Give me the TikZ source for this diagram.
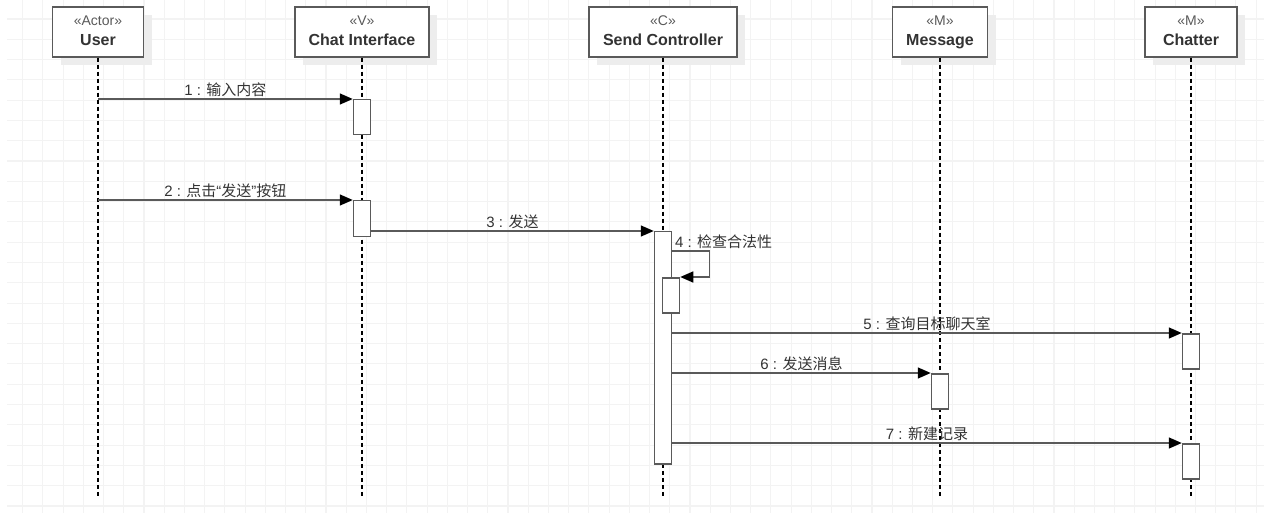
\documentclass[tikz,border=0pt]{standalone}
\usepackage{fontspec}
\setmainfont{Liberation Sans}
\newfontfamily\cjk{Noto Sans CJK SC}
\usetikzlibrary{arrows.meta,shadows}

\definecolor{gridcol}{HTML}{F3F3F3}
\definecolor{linecol}{HTML}{5A5A5A}
\definecolor{txtcol}{HTML}{333333}

\newcommand{\zh}[1]{{\cjk #1}}
\newcommand{\stereo}[2]{{\fontsize{14}{20}\selectfont\color{linecol}«#1»}\\{\bfseries #2\rule[-3.5pt]{0pt}{1pt}}}

\tikzset{
	gridline/.style={draw=gridcol,line width=1.1pt},
	head/.style={draw=linecol,line width=1.5pt,fill=white,minimum height=50pt,inner sep=0pt,
		align=center,text=txtcol,font=\fontsize{16}{20}\selectfont,
		drop shadow={shadow xshift=8pt,shadow yshift=-8pt,fill=black!7,opacity=1}},
	lifeline/.style={line width=1.3pt,dash pattern=on 4pt off 3pt},
	act/.style={draw=linecol,line width=1.5pt,fill=white,minimum width=17pt,minimum height=35pt,
		inner sep=0pt,anchor=north},
	msg/.style={draw=linecol,line width=1.5pt,->},
	lbl/.style={font=\fontsize{15}{17}\selectfont,text=txtcol,inner sep=2pt},
}

\begin{document}
\begin{tikzpicture}[x=1pt,y=-1pt,>={Triangle[length=13pt,width=11pt,color=black]}]
	\useasboundingbox (0,0) rectangle (1264,513);
	% background grid
	\foreach \gx in {1,...,62}
		\draw[gridline] ({2.5+20.22*\gx},0) -- ({2.5+20.22*\gx},513);
	\foreach \gy in {1,...,25}
		\draw[gridline] (7,{-1.3+20.29*\gy}) -- (1264,{-1.3+20.29*\gy});

	% lifeline heads
	\node[head,minimum width=91pt] (user) at (98,32) {\stereo{Actor}{User}};
	\node[head,minimum width=134pt] (chat) at (362,32) {\stereo{V}{Chat Interface}};
	\node[head,minimum width=148pt] (ctrl) at (663,32) {\stereo{C}{Send Controller}};
	\node[head,minimum width=95pt] (msg) at (940,32) {\stereo{M}{Message}};
	\node[head,minimum width=92pt] (chatter) at (1191,32) {\stereo{M}{Chatter}};

	% lifelines
	\coordinate (endline) at (0,498);
	\foreach \n in {user,chat,ctrl,msg,chatter}
		\draw[lifeline] (\n.south) -- (\n.south |- endline);

	% activations
	\node[act] (chat1) at (362,99) {};
	\node[act,minimum height=36pt] (chat2) at (362,200) {};
	\node[act,minimum height=232pt] (ctrl1) at (663,231) {};
	\node[act] (ctrl2) at (671,277) {};
	\node[act] (chatter1) at (1191,333) {};
	\node[act] (msg1) at (940,373) {};
	\node[act] (chatter2) at (1191,443) {};

	% messages
	\draw[msg] (user.south |- chat1.north) -- (chat1.north west)
		node[lbl,midway,above]{1 : \zh{输入内容}};
	\draw[msg] (user.south |- chat2.north) -- (chat2.north west)
		node[lbl,midway,above]{2 : \zh{点击}“\zh{发送}”\zh{按钮}};
	\draw[msg] (chat2.east |- ctrl1.north) -- (ctrl1.north west)
		node[lbl,midway,above]{3 : \zh{发送}};
	\draw[msg] ([yshift=-20pt]ctrl1.north east) node[lbl,above right]{4 : \zh{检查合法性}}
		-- ++(37,0) |- (ctrl2.north east);
	\draw[msg] (ctrl1.east |- chatter1.north) -- (chatter1.north west)
		node[lbl,midway,above]{5 : \zh{查询目标聊天室}};
	\draw[msg] (ctrl1.east |- msg1.north) -- (msg1.north west)
		node[lbl,midway,above]{6 : \zh{发送消息}};
	\draw[msg] (ctrl1.east |- chatter2.north) -- (chatter2.north west)
		node[lbl,midway,above]{7 : \zh{新建记录}};
\end{tikzpicture}
\end{document}
